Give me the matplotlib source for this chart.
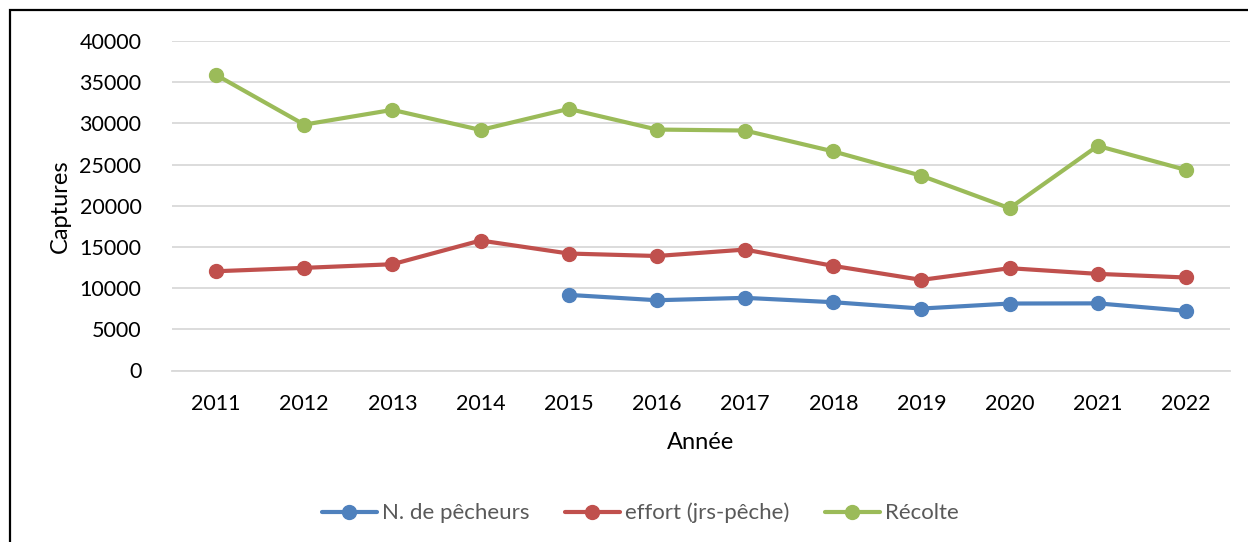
import matplotlib
matplotlib.use("Agg")
import matplotlib.pyplot as plt
from matplotlib.patches import Rectangle
import numpy as np

years = ["2011", "2012", "2013", "2014", "2015", "2016", "2017", "2018", "2019", "2020", "2021", "2022"]
pecheurs = [np.nan, np.nan, np.nan, np.nan, 9180, 8530, 8820, 8290, 7520, 8130, 8150, 7240]
effort = [12050, 12460, 12900, 15780, 14200, 13900, 14680, 12700, 11000, 12420, 11730, 11290]
recolte = [35880, 29850, 31640, 29200, 31760, 29250, 29130, 26600, 23640, 19700, 27270, 24350]
series_names = ["N. de pêcheurs", "effort (jrs-pêche)", "Récolte"]
colors = ["#4F81BD", "#C0504D", "#9BBB59"]
yticks = [0, 5000, 10000, 15000, 20000, 25000, 30000, 35000, 40000]

plt.rcParams['font.family'] = ['Lato', 'DejaVu Sans']
W, H = 1248, 542
fig = plt.figure(figsize=(W / 100, H / 100), dpi=100)
ax = fig.add_axes([172 / W, 1 - 370.5 / H, (1230 - 172) / W, (370.5 - 41) / H])

x = np.arange(len(years))
for vals, name, c in zip([pecheurs, effort, recolte], series_names, colors):
    ax.plot(x, vals, color=c, lw=3.0, marker='o', ms=10, label=name,
            solid_capstyle='round', solid_joinstyle='round')

ax.set_xlim(-0.5, len(years) - 0.5)
ax.set_ylim(0, 40000)
ax.set_yticks(yticks)
ax.set_yticklabels([str(v) for v in yticks])
ax.set_xticks(x)
ax.set_xticklabels(years)
ax.grid(axis='y', color='#D9D9D9', lw=1.3)
ax.set_axisbelow(True)
for s in ['top', 'right', 'left']:
    ax.spines[s].set_visible(False)
ax.spines['bottom'].set_color('#D9D9D9')
ax.spines['bottom'].set_linewidth(1.3)
ax.tick_params(axis='both', length=0, labelsize=15.5, colors='black')
ax.tick_params(axis='y', pad=22)
ax.tick_params(axis='x', pad=17)
ax.set_ylabel("Captures", fontsize=17, labelpad=6)
ax.set_xlabel("Année", fontsize=17, labelpad=13)

leg = fig.legend(loc='center', bbox_to_anchor=(640 / W, 1 - 513 / H), ncol=3,
                 frameon=False, fontsize=16, handlelength=2.5, handletextpad=0.2,
                 columnspacing=1.6)
for t in leg.get_texts():
    t.set_color('#595959')

fig.patches.append(Rectangle((10 / W, -0.05), 1.1, 1 - 10 / H + 0.05,
                             transform=fig.transFigure, fill=False,
                             edgecolor='black', lw=1.6, figure=fig))

fig.savefig("out.png", dpi=100)
